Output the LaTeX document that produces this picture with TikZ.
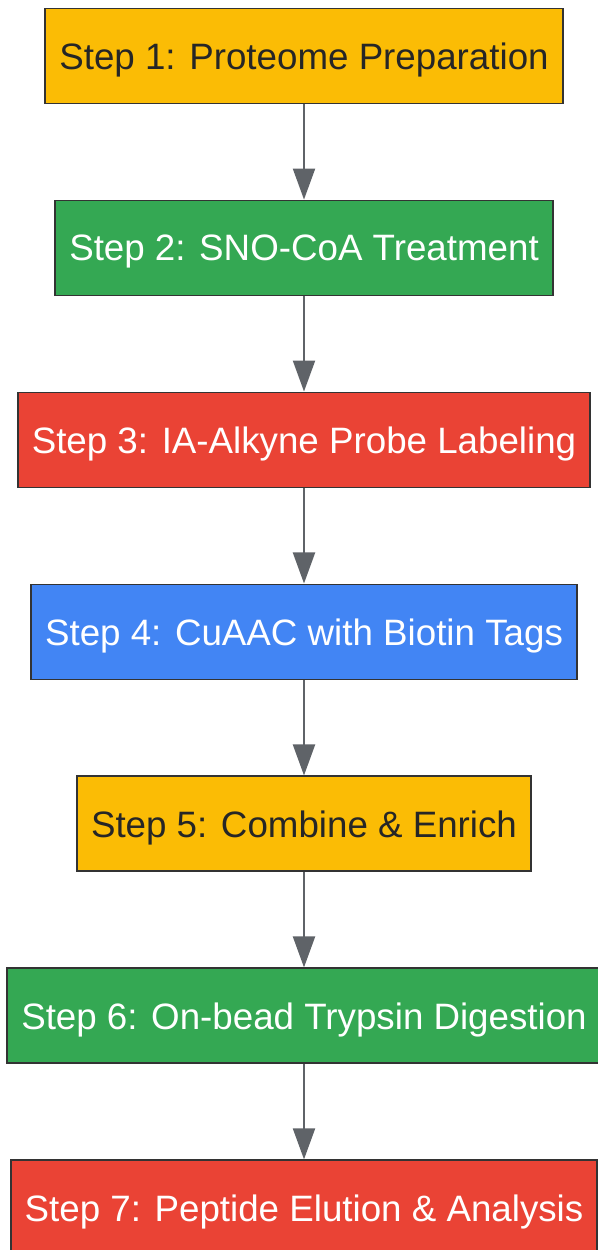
\documentclass[tikz,border=0pt]{standalone}
\usepackage{fontspec}
\setmainfont{Liberation Sans}
\usetikzlibrary{positioning,arrows.meta}
\definecolor{gyellow}{HTML}{FBBC05}
\definecolor{ggreen}{HTML}{34A853}
\definecolor{gred}{HTML}{EA4335}
\definecolor{gblue}{HTML}{4285F4}
\definecolor{gborder}{HTML}{333333}
\definecolor{garrow}{HTML}{5F6368}
\tikzset{
  stepbox/.style={draw=gborder, line width=1pt, minimum height=1.9cm,
    inner xsep=0.28cm, text depth=0pt, font=\fontsize{20.9}{25}\selectfont},
  darktext/.style={text=black!85},
  lighttext/.style={text=white},
  flow/.style={draw=garrow, line width=1.2pt, -{Triangle[length=0.62cm,width=0.44cm]}}
}
\begin{document}
\begin{tikzpicture}[node distance=1.904cm]
    % Rahmen
    \useasboundingbox (0,0) rectangle (11.94,-25);
    % Schritte
    \node[stepbox, darktext, fill=gyellow] (prep) at (6.08,-1.12) {Step 1: Proteome Preparation};
    \node[stepbox, lighttext, fill=ggreen, below=of prep] (sno) {Step 2: SNO-CoA Treatment};
    \node[stepbox, lighttext, fill=gred, below=of sno] (probe) {Step 3: IA-Alkyne Probe Labeling};
    \node[stepbox, lighttext, fill=gblue, below=of probe] (click) {Step 4: CuAAC with Biotin Tags};
    \node[stepbox, darktext, fill=gyellow, below=of click] (enrich) {Step 5: Combine \& Enrich};
    \node[stepbox, lighttext, fill=ggreen, below=of enrich] (digest) {Step 6: On-bead Trypsin Digestion};
    \node[stepbox, lighttext, fill=gred, below=of digest] (elute) {Step 7: Peptide Elution \& Analysis};
    % Pfeile
    \draw[flow] (prep) -- (sno);
    \draw[flow] (sno) -- (probe);
    \draw[flow] (probe) -- (click);
    \draw[flow] (click) -- (enrich);
    \draw[flow] (enrich) -- (digest);
    \draw[flow] (digest) -- (elute);
\end{tikzpicture}
\end{document}
